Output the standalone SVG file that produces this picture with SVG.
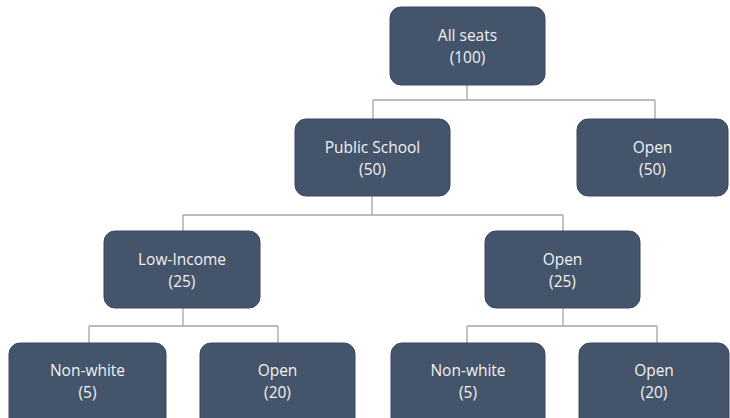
<svg xmlns="http://www.w3.org/2000/svg" width="730" height="418" viewBox="0 0 730 418">
<style>
.box{fill:#44546A;stroke:#3a4860;stroke-width:1}
.lbl{font-family:"Open Sans","Liberation Sans",sans-serif;font-size:15.5px;fill:#F2F2F2;text-anchor:middle}
.ln{fill:none;stroke:#A6A6A6;stroke-width:1.3}
</style>
<rect width="730" height="418" fill="#FFFFFF"/>
<g id="connectors">
<path class="ln" d="M467,85 V100 M373,100 H655 M373,100 V119 M655,100 V119"/>
<path class="ln" d="M372,196 V215 M183,215 H563 M183,215 V231 M563,215 V231"/>
<path class="ln" d="M183,308 V326 M89,326 H278 M89,326 V343 M278,326 V343"/>
<path class="ln" d="M563,308 V326 M467,326 H657 M467,326 V343 M657,326 V343"/>
</g>
<g id="n-all"><rect class="box" x="390" y="7" width="155" height="78" rx="11"/><text class="lbl" x="467.5" y="41">All seats</text><text class="lbl" x="467.5" y="62.5">(100)</text></g>
<g id="n-public"><rect class="box" x="295" y="119" width="155" height="77" rx="11"/><text class="lbl" x="372.5" y="153">Public School</text><text class="lbl" x="372.5" y="174.5">(50)</text></g>
<g id="n-open50"><rect class="box" x="577" y="119" width="151" height="77" rx="11"/><text class="lbl" x="652.5" y="153">Open</text><text class="lbl" x="652.5" y="174.5">(50)</text></g>
<g id="n-lowincome"><rect class="box" x="104" y="231" width="156" height="77" rx="11"/><text class="lbl" x="182" y="265">Low-Income</text><text class="lbl" x="182" y="286.5">(25)</text></g>
<g id="n-open25"><rect class="box" x="485" y="231" width="155" height="77" rx="11"/><text class="lbl" x="562.5" y="265">Open</text><text class="lbl" x="562.5" y="286.5">(25)</text></g>
<g id="n-nonwhite1"><rect class="box" x="9" y="343" width="157" height="90" rx="11"/><text class="lbl" x="87.5" y="376">Non-white</text><text class="lbl" x="87.5" y="397.5">(5)</text></g>
<g id="n-open20a"><rect class="box" x="200" y="343" width="155" height="90" rx="11"/><text class="lbl" x="277.5" y="376">Open</text><text class="lbl" x="277.5" y="397.5">(20)</text></g>
<g id="n-nonwhite2"><rect class="box" x="391" y="343" width="154" height="90" rx="11"/><text class="lbl" x="468" y="376">Non-white</text><text class="lbl" x="468" y="397.5">(5)</text></g>
<g id="n-open20b"><rect class="box" x="579" y="343" width="150" height="90" rx="11"/><text class="lbl" x="654" y="376">Open</text><text class="lbl" x="654" y="397.5">(20)</text></g>
</svg>
